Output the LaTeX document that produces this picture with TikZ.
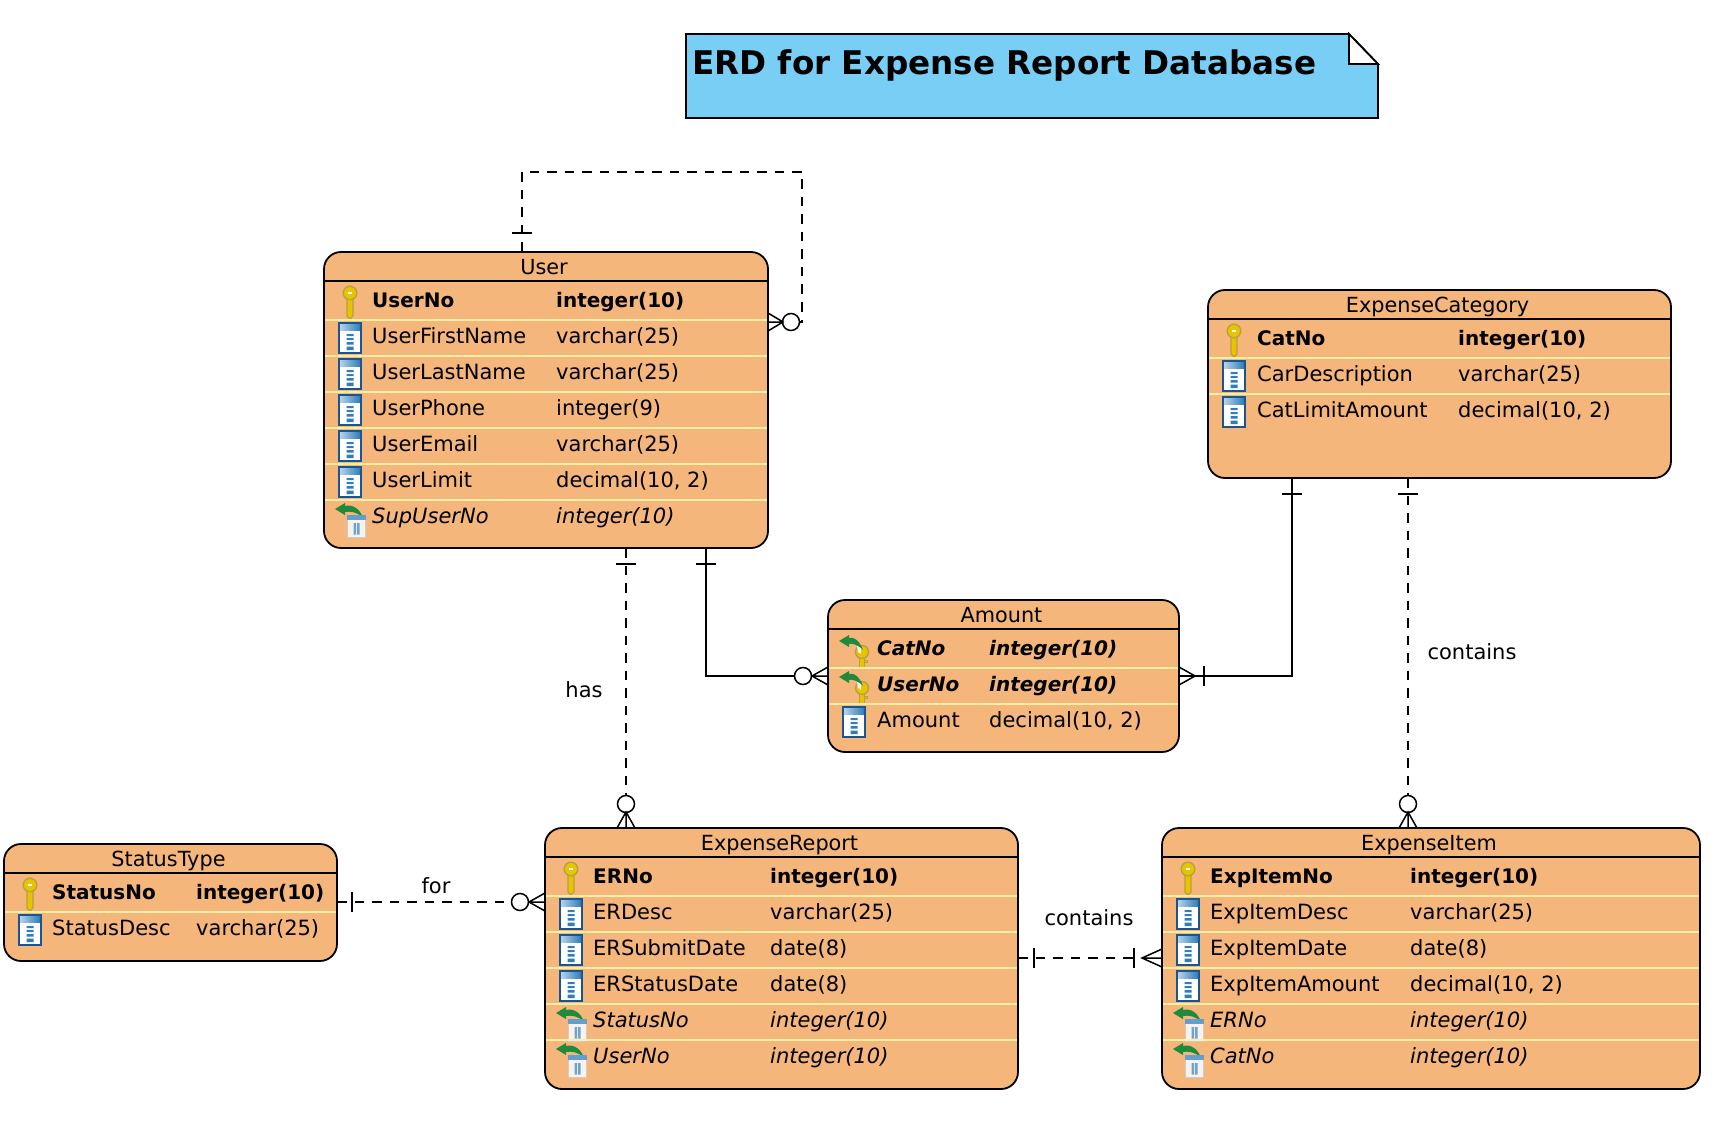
\documentclass[tikz,border=0pt]{standalone}
\usepackage{fontspec}
\setmainfont{DejaVu Sans}
\usetikzlibrary{calc,shapes.geometric}
\definecolor{entfill}{HTML}{F4B67A}
\definecolor{entsep}{HTML}{FFF0A8}
\definecolor{notefill}{HTML}{79CEF5}
\definecolor{coldark}{HTML}{1B5590}
\definecolor{colband}{HTML}{2F7DBB}
\definecolor{golda}{HTML}{E8C400}
\definecolor{goldb}{HTML}{B9A040}
\definecolor{fkgreen}{HTML}{1E8A3C}
\newcounter{rowc}
\def\colA{0}\def\colB{0}\def\entL{0}\def\entR{0}\def\entH{0}
\tikzset{
  entity/.style={draw=black,fill=entfill,line width=1.8pt,rounded corners=17pt,inner sep=0pt,outer sep=0pt,anchor=north west},
  etitle/.style={font=\fontsize{20.8}{24}\selectfont,anchor=base,inner sep=0pt},
  cell/.style={font=\fontsize{21}{24}\selectfont,anchor=base west,inner sep=0pt},
  cellpk/.style={cell,font=\fontsize{20}{24}\selectfont\bfseries},
  cellfk/.style={cell,font=\fontsize{21}{24}\selectfont\itshape},
  cellpf/.style={cell,font=\fontsize{20}{24}\selectfont\bfseries\itshape},
  rel/.style={line width=1.5pt,draw=black},
  reld/.style={rel,dash pattern=on 9.5pt off 8pt},
  opt/.style={circle,draw=black,fill=white,line width=1.5pt,minimum size=17pt,inner sep=0pt,outer sep=0pt},
  lab/.style={font=\fontsize{21}{24}\selectfont,inner sep=0pt},
}
\newcommand\icoCol[2]{\begin{scope}[shift={(#1,#2)}]
  \fill[coldark] (-12,-15) rectangle (12,17);
  \fill[white] (-10,-13) rectangle (10,15);
  \shade[left color=colband!35!white,right color=colband] (-10,-13) rectangle (10,-6.5);
  \fill[colband] (-3.5,-3) rectangle (3.5,-1) (-3.5,1) rectangle (3.5,3) (-3.5,5) rectangle (3.5,7.5) (-3.5,9.5) rectangle (3.5,13);
\end{scope}}
\newcommand\icoKey[2]{\begin{scope}[shift={(#1,#2)}]
  \fill[golda,draw=goldb,line width=1.2pt] (-3,-4) -- (3,-4) -- (3,15) -- (0,18) -- (-3,15) -- cycle;
  \fill[golda,draw=goldb,line width=1.4pt] (0,-8) circle (6.8);
  \fill[white] (-2,-9.5) rectangle (2,-7.5);
\end{scope}}
\newcommand\icoArrow[3]{\begin{scope}[shift={(#1,#2)}]
  \fill[fkgreen] (-15,-8) -- (-5,-14) -- (-5,-11) .. controls (#3-10,-13) and (#3-3,-8) .. (#3,1) .. controls (#3-5,-5) and (#3-13,-6) .. (-5,-5) -- (-5,-2) -- cycle;
\end{scope}}
\newcommand\icoFk[2]{\icoArrow{#1}{#2}{13}\begin{scope}[shift={(#1,#2)}]
  \fill[white!90!brown,draw=gray!40,line width=1pt] (-2.5,-1) rectangle (15.5,20);
  \fill[colband!75!white] (-3,-2) rectangle (16,3);
  \fill[colband!70!white] (3.5,6) rectangle (6,17.5) (7,6) rectangle (9.5,17.5);
\end{scope}}
\newcommand\icoFkKey[2]{\begin{scope}[shift={(#1,#2)}]
  \fill[golda,draw=goldb,line width=1pt] (5,3) -- (10.5,3) -- (10.5,18) -- (5,18) -- cycle;
  \fill[golda,draw=goldb,line width=1pt] (10.5,11) rectangle (13,13.5);
  \fill[golda,draw=goldb,line width=1.4pt] (8,3) circle (6.5);
  \fill[white!90!gray] (3,-3) -- (7,-2) -- (7,5) -- (4,3) -- cycle;
\end{scope}\icoArrow{#1}{#2}{9}}
% #1 name, #2 title, #3 x1, #4 y1, #5 x2, #6 y2, #7 header y, #8 col A, #9 col B
\newcommand\entbox[9]{%
  \pgfmathsetmacro\entW{#5-#3}\pgfmathsetmacro\entHt{#6-#4}%
  \node[entity,minimum width=\entW pt,minimum height=\entHt pt] (#1) at (#3,#4) {};
  \draw[line width=1.5pt] (#3,#7) -- (#5,#7);
  \pgfmathsetmacro\tx{(#3+#5)/2-2}\pgfmathsetmacro\ty{#7-7}%
  \node[etitle] (#1-title) at (\tx,\ty) {#2};
  \xdef\entL{#3}\xdef\entR{#5}\xdef\entH{#7}\xdef\colA{#8}\xdef\colB{#9}}
% #1 row index, #2 kind, #3 first text, #4 second text
\newcommand\erow[4]{%
  \stepcounter{rowc}%
  \pgfmathsetmacro\rc{\entH+20+36*#1}\pgfmathsetmacro\rb{\rc+6.5}%
  \pgfmathsetmacro\ix{\entL+26}\pgfmathsetmacro\sa{\entL+1}\pgfmathsetmacro\sb{\entR-1}%
  \ifnum#1>0 \pgfmathsetmacro\rs{\entH+39+36*(#1-1)}\draw[entsep,line width=1.8pt] (\sa,\rs) -- (\sb,\rs);\fi
  \csname ico#2\endcsname{\ix}{\rc}
  \node[cell\csname st#2\endcsname] (r\arabic{rowc}a) at (\colA,\rb) {#3};
  \node[cell\csname st#2\endcsname] (r\arabic{rowc}b) at (\colB,\rb) {#4};}
\def\stCol{}\def\stKey{pk}\def\stFk{fk}\def\stFkKey{pf}
% crow feet: #1 coordinate on the box edge, #2 signed length
\newcommand\crowH[2]{\draw[rel] ($(#1)+(0,-9)$) -- ($(#1)+(#2,0)$) -- ($(#1)+(0,9)$) (#1) -- ($(#1)+(#2,0)$);}
\newcommand\crowV[2]{\draw[rel] ($(#1)+(-9,0)$) -- ($(#1)+(0,#2)$) -- ($(#1)+(9,0)$) (#1) -- ($(#1)+(0,#2)$);}
\newcommand\barH[1]{\draw[rel] ($(#1)+(0,-10)$) -- ($(#1)+(0,10)$);}
\newcommand\barV[1]{\draw[rel] ($(#1)+(-10,0)$) -- ($(#1)+(10,0)$);}
\begin{document}
\begin{tikzpicture}[x=1pt,y=-1pt]
\useasboundingbox (0,0) rectangle (1722,1134);
% title note
\draw[fill=notefill,line width=1.8pt] (686,34) -- (1349,34) -- (1378,64) -- (1378,118) -- (686,118) -- cycle;
\draw[fill=white,line width=1.8pt] (1349,34) -- (1378,64) -- (1349,64) -- cycle;
\node[font=\fontsize{32.6}{40}\selectfont\bfseries,anchor=base west,inner sep=0pt] (notetitle) at (692,75) {ERD for Expense Report Database};
% User
\entbox{user}{User}{324}{252}{768}{548}{281}{372}{556}
\erow{0}{Key}{UserNo}{integer(10)}
\erow{1}{Col}{UserFirstName}{varchar(25)}
\erow{2}{Col}{UserLastName}{varchar(25)}
\erow{3}{Col}{UserPhone}{integer(9)}
\erow{4}{Col}{UserEmail}{varchar(25)}
\erow{5}{Col}{UserLimit}{decimal(10, 2)}
\erow{6}{Fk}{SupUserNo}{integer(10)}
% ExpenseCategory
\entbox{cat}{ExpenseCategory}{1208}{290}{1671}{478}{319}{1257}{1458}
\erow{0}{Key}{CatNo}{integer(10)}
\erow{1}{Col}{CarDescription}{varchar(25)}
\erow{2}{Col}{CatLimitAmount}{decimal(10, 2)}
% Amount
\entbox{amount}{Amount}{828}{600}{1179}{752}{629}{877}{989}
\erow{0}{FkKey}{CatNo}{integer(10)}
\erow{1}{FkKey}{UserNo}{integer(10)}
\erow{2}{Col}{Amount}{decimal(10, 2)}
% StatusType
\entbox{status}{StatusType}{4}{844}{337}{961}{873}{52}{196}
\erow{0}{Key}{StatusNo}{integer(10)}
\erow{1}{Col}{StatusDesc}{varchar(25)}
% ExpenseReport
\entbox{report}{ExpenseReport}{545}{828}{1018}{1089}{857}{593}{770}
\erow{0}{Key}{ERNo}{integer(10)}
\erow{1}{Col}{ERDesc}{varchar(25)}
\erow{2}{Col}{ERSubmitDate}{date(8)}
\erow{3}{Col}{ERStatusDate}{date(8)}
\erow{4}{Fk}{StatusNo}{integer(10)}
\erow{5}{Fk}{UserNo}{integer(10)}
% ExpenseItem
\entbox{item}{ExpenseItem}{1162}{828}{1700}{1089}{857}{1210}{1410}
\erow{0}{Key}{ExpItemNo}{integer(10)}
\erow{1}{Col}{ExpItemDesc}{varchar(25)}
\erow{2}{Col}{ExpItemDate}{date(8)}
\erow{3}{Col}{ExpItemAmount}{decimal(10, 2)}
\erow{4}{Fk}{ERNo}{integer(10)}
\erow{5}{Fk}{CatNo}{integer(10)}
% --- connectors ---
% self loop on User
\coordinate (selfA) at ($(user.north west)+(198,0)$);
\coordinate (selfB) at ($(user.north east)+(0,70)$);
\coordinate (selfTL) at ($(selfA)+(0,-80)$);
\coordinate (selfTR) at ($(selfTL)+(280,0)$);
\coordinate (selfBR) at ($(selfB)+(34,0)$);
\node[opt] (selfC) at ($(selfB)+(23,0)$) {};
\draw[reld] (selfA) -- (selfTL) -- (selfTR) -- (selfBR) -- (selfC);
\barV{$(selfA)+(0,-19)$}
\crowH{selfB}{15}
% has: User - ExpenseReport
\coordinate (hasA) at ($(user.south west)+(302,0)$);
\coordinate (hasB) at ($(report.north west)+(81,0)$);
\node[opt] (hasC) at ($(hasB)+(0,-24)$) {};
\draw[reld] (hasA) -- (hasC);
\barV{$(hasA)+(0,16)$}
\crowV{hasB}{-16}
\node[lab] (hasL) at (584,690) {has};
% User - Amount
\coordinate (uaA) at ($(user.south west)+(382,0)$);
\coordinate (uaB) at ($(amount.north west)+(0,76)$);
\coordinate (uaK) at (uaA |- uaB);
\node[opt] (uaC) at ($(uaB)+(-25,0)$) {};
\draw[rel] (uaA) -- (uaK) -- (uaC);
\barV{$(uaA)+(0,16)$}
\crowH{uaB}{-16}
% ExpenseCategory - Amount
\coordinate (caA) at ($(cat.south west)+(84,0)$);
\coordinate (caB) at ($(amount.north east)+(0,76)$);
\coordinate (caK) at (caA |- caB);
\draw[rel] (caA) -- (caK) -- (caB);
\barV{$(caA)+(0,16)$}
\barH{$(caB)+(25,0)$}
\crowH{caB}{16}
% ExpenseCategory - ExpenseItem
\coordinate (ciA) at ($(cat.south west)+(200,0)$);
\coordinate (ciB) at ($(item.north west)+(246,0)$);
\node[opt] (ciC) at ($(ciB)+(0,-24)$) {};
\draw[reld] (ciA) -- (ciC);
\barV{$(ciA)+(0,16)$}
\crowV{ciB}{-16}
\node[lab] (ciL) at (1472,652) {contains};
% for: StatusType - ExpenseReport
\coordinate (srA) at ($(status.north east)+(0,58)$);
\coordinate (srB) at ($(report.north west)+(0,74)$);
\node[opt] (srC) at ($(srB)+(-25,0)$) {};
\draw[reld] (srA) -- (srC);
\barH{$(srA)+(15,0)$}
\crowH{srB}{-16}
\node[lab] (srL) at (436,886) {for};
% contains: ExpenseReport - ExpenseItem
\coordinate (riA) at ($(report.north east)+(0,130)$);
\coordinate (riB) at ($(item.north west)+(0,130)$);
\coordinate (riD) at ($(riB)+(-28,0)$);
\draw[reld] (riA) -- (riD);
\barH{$(riA)+(16,0)$}
\barH{riD}
\crowH{riB}{-20}
\node[lab] (riL) at (1089,918) {contains};
\end{tikzpicture}
\end{document}
